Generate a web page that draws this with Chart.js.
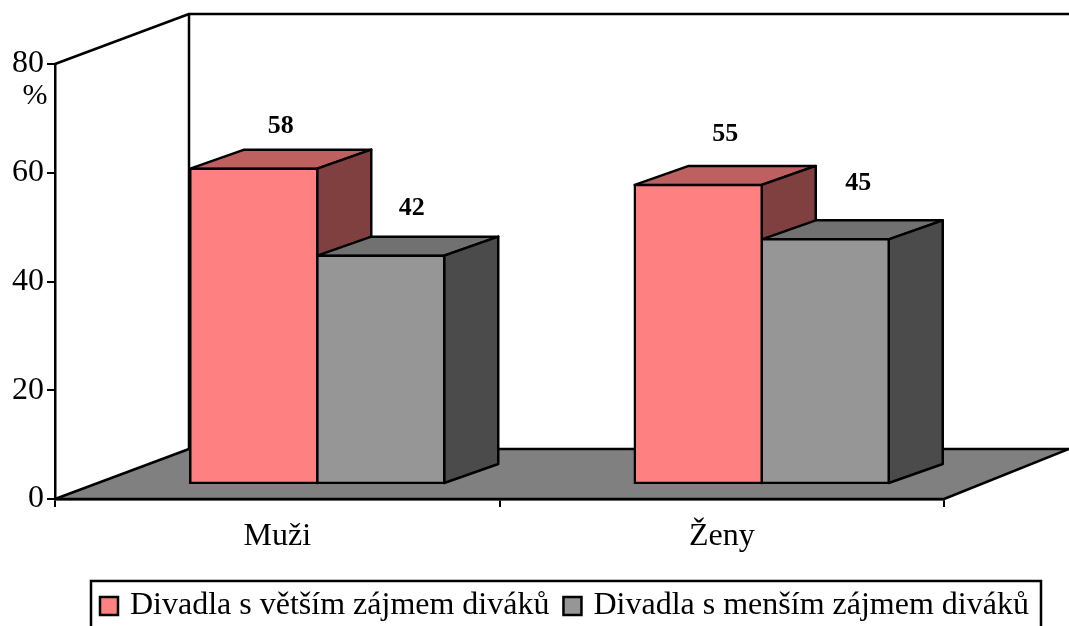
<!DOCTYPE html>
<html>
<head>
<meta charset="utf-8">
<style>
  html, body { margin: 0; padding: 0; background: #fff; overflow: hidden; }
  canvas { display: block; }
</style>
<script src="https://cdn.jsdelivr.net/npm/chart.js@4/dist/chart.umd.min.js"></script>
</head>
<body>
<canvas id="theatreChart" width="1069" height="626"></canvas>
<script>
// Chart data
const categories = ['Muži', 'Ženy'];
const seriesNames = ['Divadla s větším zájmem diváků', 'Divadla s menším zájmem diváků'];
const biggerInterest = [58, 55];
const smallerInterest = [42, 45];

const serif = '"Liberation Serif", "Times New Roman", serif';

// fake 3D: room depth and how far the bars sit into it
const room = { dx: 134, dy: -50 };
const barShift = { x: 40, y: -15 };
const barDepth = { dx: 54, dy: -19 };
const lineW = 2.5;

// the value labels are not placed evenly in the original
const labelNudge = [[[0, -23], [0, -32]], [[4, -28], [6, -37]]];

const shades = [
  { front: '#ff8080', top: '#bf6060', side: '#804040' },
  { front: '#969696', top: '#717171', side: '#4b4b4b' }
];

function poly(ctx, pts, fill) {
  ctx.beginPath();
  pts.forEach((p, i) => (i ? ctx.lineTo(p[0], p[1]) : ctx.moveTo(p[0], p[1])));
  ctx.closePath();
  if (fill) {
    ctx.fillStyle = fill;
    ctx.fill();
  }
  ctx.stroke();
}

const fake3d = {
  id: 'fake3d',
  afterLayout(chart) {
    // legend sits off centre in the original
    const pad = chart.options.plugins.legend.labels.padding;
    chart.legend.left = 104 - pad;
    chart.legend.top = 590 - pad;
  },
  beforeDatasetsDraw(chart) {
    const { ctx, scales: { x, y } } = chart;
    const backRight = Math.min(x.right + room.dx, chart.width);
    ctx.save();
    ctx.strokeStyle = '#000';
    ctx.lineWidth = lineW;
    ctx.lineJoin = 'round';
    poly(ctx, [
      [x.left, y.bottom],
      [x.left + room.dx, y.bottom + room.dy],
      [backRight, y.bottom + room.dy],
      [x.right, y.bottom]
    ], '#808080');
    ctx.beginPath();
    ctx.moveTo(x.left, y.top);
    ctx.lineTo(x.left + room.dx, y.top + room.dy);
    ctx.lineTo(backRight, y.top + room.dy);
    ctx.moveTo(x.left + room.dx, y.top + room.dy);
    ctx.lineTo(x.left + room.dx, y.bottom + room.dy);
    ctx.stroke();

    // tops and sides first, the library then paints the fronts over them
    ctx.translate(barShift.x, barShift.y);
    chart.data.datasets.forEach((ds, d) => {
      const c = shades[d];
      chart.getDatasetMeta(d).data.forEach(bar => {
        const l = bar.x - bar.width / 2;
        const r = bar.x + bar.width / 2;
        poly(ctx, [
          [l, bar.y],
          [l + barDepth.dx, bar.y + barDepth.dy],
          [r + barDepth.dx, bar.y + barDepth.dy],
          [r, bar.y]
        ], c.top);
        poly(ctx, [
          [r, bar.y],
          [r + barDepth.dx, bar.y + barDepth.dy],
          [r + barDepth.dx, bar.base + barDepth.dy],
          [r, bar.base]
        ], c.side);
      });
    });
    ctx.restore();

    // left open until afterDatasetsDraw so the fronts land in the same place
    ctx.save();
    ctx.translate(barShift.x, barShift.y);
  },
  afterDatasetsDraw(chart) {
    const { ctx, data } = chart;
    ctx.restore();

    ctx.save();
    ctx.fillStyle = '#000';
    ctx.font = 'bold 26px ' + serif;
    ctx.textAlign = 'center';
    ctx.textBaseline = 'middle';
    data.datasets.forEach((ds, d) => {
      chart.getDatasetMeta(d).data.forEach((bar, i) => {
        const n = labelNudge[d][i];
        ctx.fillText(String(ds.data[i]),
          bar.x + barShift.x + barDepth.dx / 2 + n[0],
          bar.y + barShift.y + barDepth.dy + n[1]);
      });
    });
    // % sign under the top tick, and the legend frame
    ctx.font = '30px ' + serif;
    ctx.fillText('%', 35, 96);
    ctx.strokeStyle = '#000';
    ctx.lineWidth = lineW;
    ctx.strokeRect(91, 581, 950, 60);
    ctx.restore();
  }
};

const ctx = document.getElementById('theatreChart').getContext('2d');

const theatreChart = new Chart(ctx, {
  type: 'bar',
  data: {
    labels: categories,
    datasets: [
      {
        label: seriesNames[0],
        data: biggerInterest,
        backgroundColor: shades[0].front,
        borderColor: '#000',
        borderWidth: lineW,
        borderSkipped: false,
        inflateAmount: lineW / 2 // border centred on the bar edge, neighbours share one line
      },
      {
        label: seriesNames[1],
        data: smallerInterest,
        backgroundColor: shades[1].front,
        borderColor: '#000',
        borderWidth: lineW,
        borderSkipped: false,
        inflateAmount: lineW / 2
      }
    ]
  },
  options: {
    responsive: false,
    animation: false,
    layout: {
      autoPadding: false,
      padding: { left: 0, right: 0, top: 64, bottom: 0 }
    },
    datasets: {
      bar: { barPercentage: 1, categoryPercentage: 0.5714 }
    },
    scales: {
      x: {
        afterFit(scale) {
          scale.height = 127 - scale.chart.legend.height;
        },
        border: { color: '#000', width: lineW },
        grid: { drawOnChartArea: false, color: '#000', lineWidth: 2, tickLength: 8 },
        ticks: {
          color: '#000',
          padding: 10,
          font: { family: serif, size: 32 },
          maxRotation: 0
        }
      },
      y: {
        min: 0,
        max: 80,
        afterFit(scale) {
          scale.width = 55;
        },
        border: { color: '#000', width: lineW },
        grid: { drawOnChartArea: false, color: '#000', lineWidth: 2, tickLength: 8 },
        ticks: {
          stepSize: 20,
          color: '#000',
          padding: 3,
          font: { family: serif, size: 32 }
        }
      },
      // empty axis, only holds the room on the right so the legend keeps one row
      spacer: {
        position: 'right',
        afterFit(scale) {
          scale.width = 125;
        },
        border: { display: false },
        grid: { display: false },
        ticks: { display: false }
      }
    },
    plugins: {
      tooltip: { enabled: false },
      legend: {
        position: 'bottom',
        align: 'start',
        labels: {
          usePointStyle: true,
          pointStyle: 'rect',
          boxWidth: 10, // narrower than the drawn square, keeps the text close to it
          boxHeight: 18,
          padding: 18,
          color: '#000',
          font: { family: serif, size: 32 }
        }
      }
    }
  },
  plugins: [fake3d]
});
</script>
</body>
</html>
